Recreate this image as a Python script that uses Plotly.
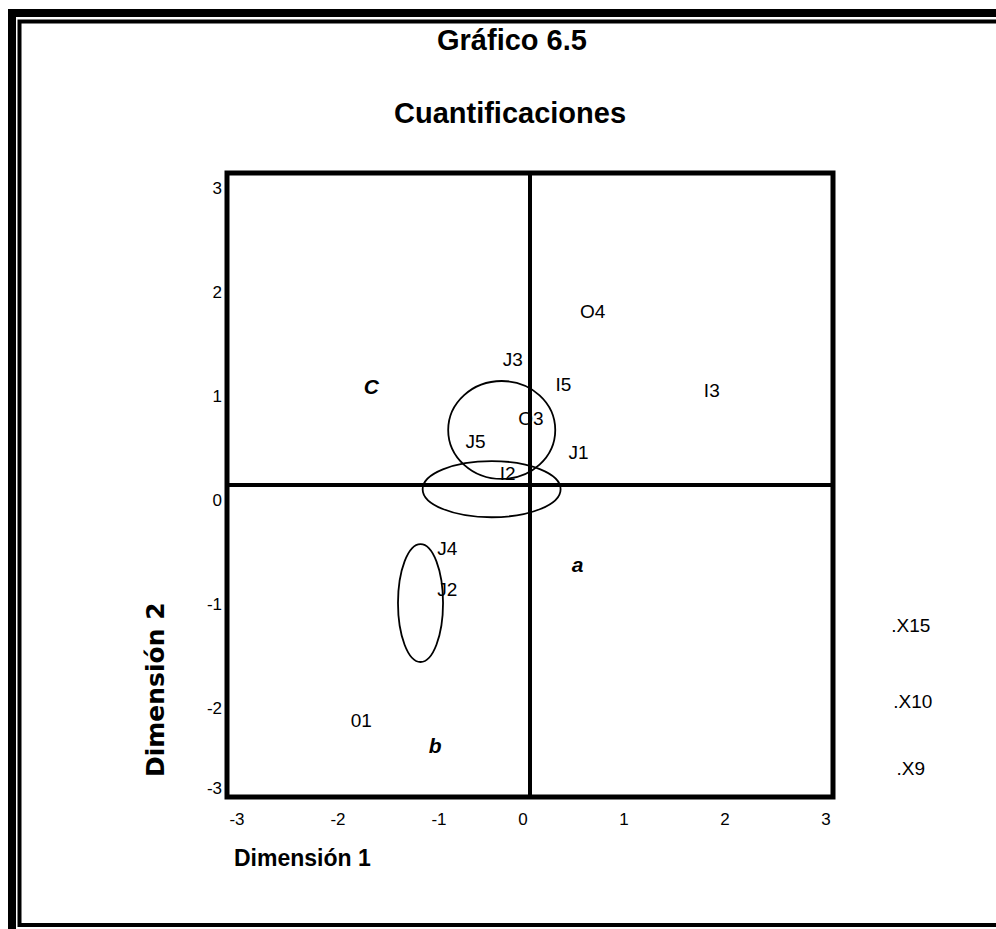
import plotly.graph_objects as go

# ---- data -------------------------------------------------------------
point_labels = ["O4", "J3", "I5", "I3", "O3", "J5", "J1", "I2", "J4", "J2", "01"]
dim1 = [0.62, -0.17, 0.33, 1.80, 0.01, -0.54, 0.48, -0.22, -0.82, -0.82, -1.67]
dim2 = [1.65, 1.19, 0.95, 0.89, 0.62, 0.40, 0.30, 0.09, -0.63, -1.02, -2.28]

outside_labels = [".X15", ".X10", ".X9"]
outside_dim1 = [3.77, 3.79, 3.77]
outside_dim2 = [-1.37, -2.10, -2.74]

group_labels = ["C", "a", "b"]
group_dim1 = [-1.57, 0.47, -0.94]
group_dim2 = [0.93, -0.79, -2.53]

# ellipses: centre and half-widths in data units
ell_cx = [-0.28, -0.38, -1.084]
ell_cy = [0.529, -0.04, -1.135]
ell_rx = [0.53, 0.683, 0.223]
ell_ry = [0.471, 0.27, 0.567]

tick_values = [-3, -2, -1, 0, 1, 2, 3]
tick_text = ["-3", "-2", "-1", "0", "1", "2", "3"]

# ---- canvas geometry --------------------------------------------------
W, H = 996, 929
ML, MR, MT, MB = 224, 42, 170, 129
PW, PH = W - ML - MR, H - MT - MB
XSCALE, YSCALE = 101.0, 104.0          # px per unit
x_lo = -3 - (227 - ML) / XSCALE
x_range = [x_lo, x_lo + PW / XSCALE]
y_hi = 3 + (173 - MT) / YSCALE
y_range = [y_hi - PH / YSCALE, y_hi]


def paper_x(px):
    return (px - ML) / PW


def paper_y(py):
    return (H - MB - py) / PH


FONT = "Liberation Sans, Arial, sans-serif"

fig = go.Figure()

fig.add_trace(go.Scatter(
    x=dim1 + outside_dim1, y=dim2 + outside_dim2,
    text=point_labels + outside_labels, mode="text",
    textposition="middle center",
    textfont=dict(family=FONT, size=19, color="black"),
    hoverinfo="skip", showlegend=False, cliponaxis=False,
))
fig.add_trace(go.Scatter(
    x=group_dim1, y=group_dim2, text=group_labels, mode="text",
    textposition="middle center",
    textfont=dict(family=FONT, size=21, color="black", weight="bold", style="italic"),
    hoverinfo="skip", showlegend=False, cliponaxis=False,
))

shapes = []
# ellipses
for cx, cy, rx, ry in zip(ell_cx, ell_cy, ell_rx, ell_ry):
    shapes.append(dict(type="circle", xref="x", yref="y",
                       x0=cx - rx, x1=cx + rx, y0=cy - ry, y1=cy + ry,
                       line=dict(color="black", width=1.8)))
# quadrant cross
shapes.append(dict(type="line", xref="x", yref="y", x0=0, x1=0, y0=-3, y1=3,
                   line=dict(color="black", width=4)))
shapes.append(dict(type="line", xref="x", yref="y", x0=-3, x1=3, y0=0, y1=0,
                   line=dict(color="black", width=4)))
# plot frame
shapes.append(dict(type="rect", xref="x", yref="y", x0=-3, x1=3, y0=-3, y1=3,
                   line=dict(color="black", width=5)))
# page border: heavy outer rule and thinner inner rule
shapes.append(dict(type="rect", xref="paper", yref="paper",
                   x0=paper_x(12), x1=paper_x(1010), y0=paper_y(13), y1=paper_y(945),
                   line=dict(color="black", width=8)))
shapes.append(dict(type="rect", xref="paper", yref="paper",
                   x0=paper_x(19.5), x1=paper_x(1010), y0=paper_y(21.5), y1=paper_y(925),
                   line=dict(color="black", width=4)))

annotations = [
    dict(text="<b>Gráfico 6.5</b>", x=paper_x(512), y=paper_y(40),
         font=dict(family=FONT, size=29, color="black")),
    dict(text="<b>Cuantificaciones</b>", x=paper_x(510), y=paper_y(113),
         font=dict(family=FONT, size=29, color="black")),
    dict(text="<b>Dimensión 1</b>", x=paper_x(302), y=paper_y(858),
         font=dict(family=FONT, size=23, color="black")),
    dict(text="<b>Dimensión 2</b>", x=paper_x(155), y=paper_y(690), textangle=-90,
         font=dict(family="DejaVu Sans, sans-serif", size=25, color="black")),
]
for a in annotations:
    a.update(xref="paper", yref="paper", xanchor="center", yanchor="middle",
             showarrow=False)

# tick label positions (labels sit slightly off their gridline positions)
x_label_pos = [v + 10 / XSCALE if v < 0 else v - 7 / XSCALE for v in tick_values]
y_label_pos = [v + 9 / YSCALE if v == -3 else v - 15 / YSCALE for v in tick_values]

fig.update_layout(
    width=W, height=H,
    margin=dict(l=ML, r=MR, t=MT, b=MB),
    paper_bgcolor="white", plot_bgcolor="white",
    shapes=shapes, annotations=annotations,
    showlegend=False,
)
fig.update_xaxes(range=x_range, showgrid=False, zeroline=False, showline=False,
                 ticks="", tickvals=x_label_pos, ticktext=tick_text,
                 ticklabelstandoff=7,
                 tickfont=dict(family=FONT, size=17, color="black"), fixedrange=True)
fig.update_yaxes(range=y_range, showgrid=False, zeroline=False, showline=False,
                 ticks="", tickvals=y_label_pos, ticktext=tick_text,
                 ticklabelstandoff=1,
                 tickfont=dict(family=FONT, size=17, color="black"), fixedrange=True)

fig.write_html("out.html", config=dict(displayModeBar=False))
